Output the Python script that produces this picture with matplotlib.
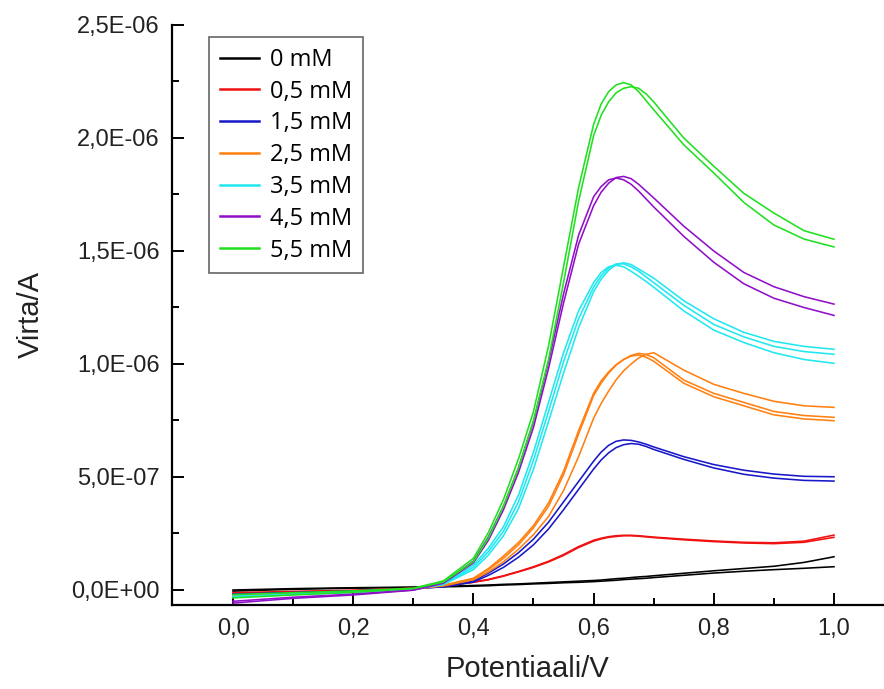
import matplotlib
matplotlib.use("Agg")
import matplotlib.pyplot as plt
import matplotlib.ticker as ticker
import numpy as np

# Potentiaali (V) -- sama potentiaalipisteistö kaikille mittauksille
potential = [0.0, 0.1, 0.2, 0.3, 0.35, 0.4, 0.425, 0.45, 0.475, 0.5, 0.525, 0.55,
             0.575, 0.6, 0.6125, 0.625, 0.6375, 0.65, 0.6625, 0.675, 0.6875, 0.7,
             0.75, 0.8, 0.85, 0.9, 0.95, 1.0]

# Virta (µA), jokaiselle pitoisuudelle 2-3 toistoa
current_0 = [
    [0.0, 0.006, 0.01, 0.013, 0.016, 0.02, 0.022, 0.025, 0.027, 0.03, 0.033, 0.036, 0.039, 0.042,
     0.044, 0.047, 0.05, 0.052, 0.055, 0.058, 0.06, 0.063, 0.074, 0.085, 0.095, 0.105, 0.122, 0.147],
    [-0.005, 0.003, 0.008, 0.011, 0.014, 0.017, 0.019, 0.022, 0.024, 0.027, 0.029, 0.032, 0.034, 0.037,
     0.039, 0.041, 0.043, 0.046, 0.048, 0.05, 0.052, 0.055, 0.065, 0.075, 0.083, 0.09, 0.096, 0.103],
]
current_05 = [
    [-0.012, -0.006, -0.001, 0.008, 0.018, 0.035, 0.047, 0.063, 0.082, 0.103, 0.127, 0.157, 0.192, 0.22,
     0.229, 0.236, 0.24, 0.242, 0.242, 0.24, 0.237, 0.234, 0.225, 0.217, 0.211, 0.209, 0.216, 0.243],
    [-0.016, -0.009, -0.003, 0.007, 0.017, 0.034, 0.045, 0.061, 0.08, 0.1, 0.124, 0.153, 0.188, 0.216,
     0.226, 0.233, 0.237, 0.24, 0.24, 0.238, 0.235, 0.232, 0.222, 0.214, 0.208, 0.205, 0.211, 0.233],
]
current_15 = [
    [-0.018, -0.011, -0.004, 0.006, 0.015, 0.04, 0.075, 0.115, 0.165, 0.225, 0.30, 0.39, 0.48, 0.57,
     0.61, 0.64, 0.658, 0.664, 0.662, 0.655, 0.645, 0.633, 0.59, 0.555, 0.53, 0.513, 0.503, 0.501],
    [-0.022, -0.013, -0.006, 0.005, 0.014, 0.035, 0.065, 0.10, 0.145, 0.20, 0.27, 0.355, 0.445, 0.535,
     0.575, 0.607, 0.63, 0.643, 0.648, 0.645, 0.635, 0.622, 0.578, 0.54, 0.512, 0.495, 0.485, 0.482],
]
current_25 = [
    [-0.024, -0.015, -0.007, 0.005, 0.02, 0.05, 0.09, 0.14, 0.20, 0.275, 0.37, 0.51, 0.69, 0.86,
     0.915, 0.96, 0.995, 1.02, 1.038, 1.047, 1.042, 1.028, 0.929, 0.87, 0.83, 0.79, 0.772, 0.764],
    [-0.026, -0.016, -0.008, 0.004, 0.018, 0.045, 0.08, 0.125, 0.18, 0.245, 0.325, 0.44, 0.59, 0.76,
     0.825, 0.88, 0.93, 0.97, 1.0, 1.027, 1.043, 1.05, 0.973, 0.91, 0.87, 0.835, 0.815, 0.808],
    [-0.028, -0.017, -0.008, 0.005, 0.021, 0.052, 0.095, 0.15, 0.21, 0.285, 0.385, 0.525, 0.705, 0.87,
     0.925, 0.965, 0.997, 1.02, 1.035, 1.04, 1.03, 1.012, 0.915, 0.855, 0.815, 0.775, 0.757, 0.749],
]
current_35 = [
    [-0.028, -0.018, -0.009, 0.004, 0.024, 0.09, 0.155, 0.24, 0.36, 0.535, 0.745, 0.96, 1.16, 1.32,
     1.375, 1.415, 1.44, 1.448, 1.44, 1.42, 1.40, 1.38, 1.28, 1.20, 1.14, 1.10, 1.078, 1.065],
    [-0.03, -0.019, -0.01, 0.004, 0.025, 0.10, 0.17, 0.26, 0.39, 0.575, 0.79, 1.01, 1.20, 1.34,
     1.39, 1.425, 1.443, 1.443, 1.43, 1.41, 1.385, 1.36, 1.26, 1.175, 1.12, 1.078, 1.055, 1.043],
    [-0.032, -0.02, -0.01, 0.003, 0.026, 0.11, 0.185, 0.28, 0.42, 0.61, 0.83, 1.05, 1.235, 1.36,
     1.405, 1.43, 1.437, 1.43, 1.41, 1.388, 1.365, 1.34, 1.235, 1.15, 1.095, 1.05, 1.02, 1.003],
]
current_45 = [
    [-0.058, -0.037, -0.022, -0.001, 0.03, 0.12, 0.22, 0.355, 0.52, 0.72, 0.98, 1.27, 1.53, 1.70,
     1.76, 1.80, 1.825, 1.83, 1.82, 1.795, 1.765, 1.735, 1.61, 1.50, 1.405, 1.342, 1.298, 1.265],
    [-0.05, -0.032, -0.018, 0.0, 0.032, 0.128, 0.235, 0.37, 0.54, 0.745, 1.01, 1.31, 1.57, 1.74,
     1.785, 1.815, 1.823, 1.815, 1.795, 1.765, 1.73, 1.695, 1.565, 1.45, 1.355, 1.291, 1.25, 1.215],
]
current_55 = [
    [-0.02, -0.012, -0.004, 0.008, 0.04, 0.14, 0.255, 0.40, 0.58, 0.79, 1.08, 1.43, 1.78, 2.06,
     2.15, 2.205, 2.235, 2.245, 2.235, 2.205, 2.165, 2.125, 1.97, 1.845, 1.715, 1.615, 1.553, 1.518],
    [-0.035, -0.022, -0.01, 0.006, 0.035, 0.125, 0.23, 0.37, 0.54, 0.75, 1.02, 1.36, 1.72, 2.01,
     2.10, 2.16, 2.20, 2.22, 2.227, 2.22, 2.195, 2.16, 2.0, 1.875, 1.755, 1.668, 1.59, 1.552],
]

labels = ['0 mM', '0,5 mM', '1,5 mM', '2,5 mM', '3,5 mM', '4,5 mM', '5,5 mM']
colors = ['#000000', '#f01010', '#1818c8', '#ff8010', '#20e8f0', '#9010c8', '#20e020']
series = [current_0, current_05, current_15, current_25, current_35, current_45, current_55]

plt.rcParams['font.family'] = ['Liberation Sans', 'DejaVu Sans']

fig = plt.figure(figsize=(8.84, 6.89), dpi=100)
ax = fig.add_axes([172 / 884, 84 / 689, 712 / 884, 580 / 689])

x = np.array(potential)
for runs, col, lab in zip(series, colors, labels):
    for i, run in enumerate(runs):
        ax.plot(x, np.array(run) * 1e-6, color=col, linewidth=1.15,
                label=lab if i == 0 else None)

ax.set_xlim(-0.1015, 1.0832)
ax.set_ylim(-0.0664e-6, 2.5e-6)

ax.spines['top'].set_visible(False)
ax.spines['right'].set_visible(False)
ax.spines['left'].set_linewidth(1.6)
ax.spines['bottom'].set_linewidth(1.6)

ax.xaxis.set_major_locator(ticker.FixedLocator([0.0, 0.2, 0.4, 0.6, 0.8, 1.0]))
ax.xaxis.set_minor_locator(ticker.FixedLocator([0.1, 0.3, 0.5, 0.7, 0.9]))
ax.yaxis.set_major_locator(ticker.MultipleLocator(0.5e-6))
ax.yaxis.set_minor_locator(ticker.MultipleLocator(0.25e-6))
ax.xaxis.set_major_formatter(ticker.FuncFormatter(lambda v, p: f"{v:.1f}".replace('.', ',')))
ax.yaxis.set_major_formatter(ticker.FuncFormatter(lambda v, p: f"{v:.1E}".replace('.', ',')))
ax.tick_params(which='major', direction='in', length=8.5, width=1.4, labelsize=17, pad=9,
               labelcolor='#222222')
ax.tick_params(which='minor', direction='in', length=5, width=1.4)

ax.set_xlabel('Potentiaali/V', fontsize=21, labelpad=11, color='#222222')
ax.set_ylabel('Virta/A', fontsize=21, labelpad=19, color='#222222')

leg = ax.legend(loc='upper left', bbox_to_anchor=(0.052, 0.979), borderaxespad=0,
                prop={'family': 'Open Sans', 'size': 17}, fancybox=False,
                handlelength=1.65, handletextpad=0.5, labelspacing=0.33,
                borderpad=0.45)
leg.get_frame().set_edgecolor('#404040')
leg.get_frame().set_linewidth(1.2)
for line in leg.get_lines():
    line.set_linewidth(1.8)

plt.savefig('out.png', dpi=100)
plt.close()
